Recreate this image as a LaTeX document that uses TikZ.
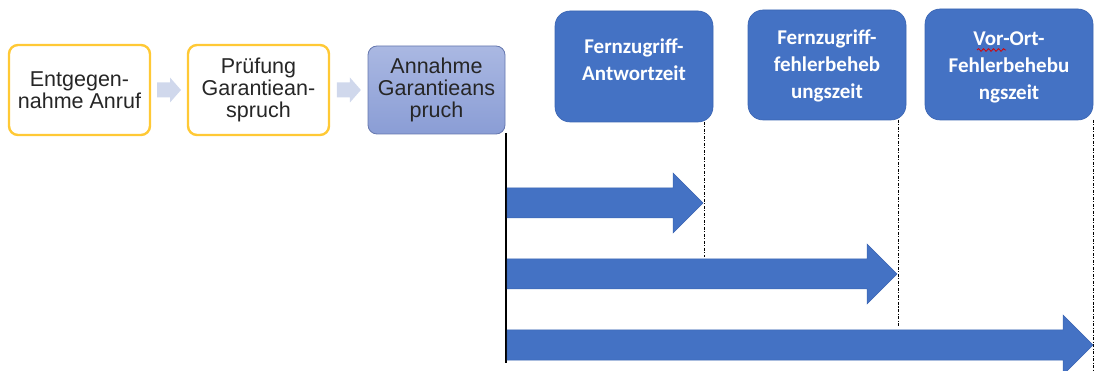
\documentclass[tikz,border=0pt]{standalone}
\usepackage{fontspec}
\setmainfont{Liberation Sans}
\newfontfamily\arialfont{Liberation Sans}
\newfontfamily\calibri{Carlito}
\usetikzlibrary{calc,decorations.pathmorphing}
\definecolor{boxblue}{HTML}{4472C4}
\definecolor{boxblueedge}{HTML}{3B65B2}
\definecolor{goldedge}{HTML}{FFC935}
\definecolor{chev}{HTML}{D0D8EC}
\definecolor{lavtop}{HTML}{AAB8E2}
\definecolor{lavbot}{HTML}{8A9DD5}
\definecolor{lavedge}{HTML}{6577AE}
\definecolor{txt}{HTML}{262626}
\tikzset{
  stepbox/.style={draw=goldedge, line width=2.4pt, rounded corners=9pt, fill=white,
    minimum width=141pt, minimum height=90pt, inner sep=0pt, align=center,
    font=\arialfont\fontsize{21.5}{22}\selectfont, text=txt},
  acceptbox/.style={draw=lavedge, line width=0.8pt, rounded corners=9pt,
    top color=lavtop, bottom color=lavbot,
    minimum width=137pt, minimum height=88pt, inner sep=0pt, align=center,
    font=\arialfont\fontsize{21.5}{22}\selectfont, text=txt},
  timebox/.style={draw=boxblueedge, line width=0.6pt, fill=boxblue, rounded corners=15pt,
    inner sep=0pt},
  timetext/.style={align=center, text=white, font=\calibri\bfseries\fontsize{21}{27}\selectfont},
  chevfill/.style={fill=chev, draw=none},
  guide/.style={line width=0.6pt, dash pattern=on 3pt off 1.5pt on 1pt off 1.5pt},
  bigarrow/.style={fill=boxblue, draw=boxblueedge, line width=0.5pt}
}
% chevron centred on a named coordinate: total length 24, head 11 long, 25 high, shaft 15 high
\newcommand\Chev[1]{%
  \path[chevfill] ($(#1)+(-12,-7.5)$) -- ($(#1)+(1,-7.5)$) -- ($(#1)+(1,-12.5)$) -- ($(#1)+(12,0)$)
    -- ($(#1)+(1,12.5)$) -- ($(#1)+(1,7.5)$) -- ($(#1)+(-12,7.5)$) -- cycle;}
\newcommand\BigArr[2]{%
  \path[bigarrow] ($(#1)+(0,-15)$) -- ($(#2)+(-30,-15)$) -- ($(#2)+(-30,-30)$) -- (#2)
    -- ($(#2)+(-30,30)$) -- ($(#2)+(-30,15)$) -- ($(#1)+(0,15)$) -- cycle;}
\begin{document}
\begin{tikzpicture}[x=1pt,y=-1pt]
\useasboundingbox (0,0) rectangle (1095,371);

% process boxes
\node[stepbox] (b1) at (79.5,90) {Entgegen-\\nahme Anruf};
\node[stepbox] (b2) at (258.5,90) {Prüfung\\Garantiean-\\spruch};
\node[acceptbox] (b3) at (436.5,90) {Annahme\\Garantieans\\pruch};
\coordinate (c1) at ($(b1.east)!0.5!(b2.west)$);
\coordinate (c2) at ($(b2.east)!0.5!(b3.west)$);
\Chev{c1}
\Chev{c2}

% time boxes
\node[timebox, minimum width=158pt, minimum height=111pt] (tA) at (634,66.5) {};
\node[timebox, minimum width=158pt, minimum height=110pt] (tB) at (827,65) {};
\node[timebox, minimum width=168pt, minimum height=111pt] (tC) at (1009,64.5) {};
\node[timetext] (lA) at (634,60) {Fernzugriff-\\Antwortzeit};
\node[timetext] (lB) at (827,66) {Fernzugriff-\\fehlerbeheb\\ungszeit};
\node[timetext] (lC) at (1009,67) {Vor-Ort-\\Fehlerbehebu\\ngszeit};
\draw[red!85!black, line width=0.8pt, decorate,
  decoration={snake, amplitude=1.3pt, segment length=5pt}] (977,50) -- (1006,50);

% start line
\coordinate (top) at (506,133);
\coordinate (bot) at (506,363);
\draw[line width=2.2pt] (top) -- (bot);

% arrow tips
\coordinate (s1) at (507,203);
\coordinate (e1) at (703,203);
\coordinate (s2) at (507,274);
\coordinate (e2) at (897,274);
\coordinate (s3) at (507,345);
\coordinate (e3) at (1093,345);

% guide lines
\coordinate (g1a) at (704,122); \coordinate (g1b) at (704,257);
\coordinate (g2a) at (898,120); \coordinate (g2b) at (898,327);
\coordinate (g3a) at (1093,120); \coordinate (g3b) at (1093,371);
\draw[guide] (g1a) -- (g1b);
\draw[guide] (g2a) -- (g2b);
\draw[guide] (g3a) -- (g3b);

\BigArr{s1}{e1}
\BigArr{s2}{e2}
\BigArr{s3}{e3}
\end{tikzpicture}
\end{document}
